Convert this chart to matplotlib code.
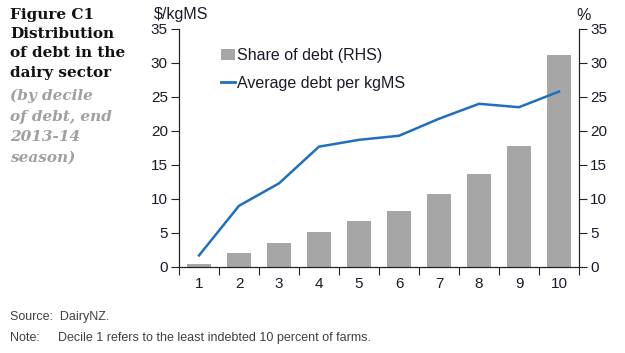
import matplotlib
matplotlib.use("Agg")
import matplotlib.pyplot as plt
from matplotlib.lines import Line2D
from matplotlib.patches import Patch

deciles = ["1", "2", "3", "4", "5", "6", "7", "8", "9", "10"]
share_of_debt = [0.5, 2.1, 3.5, 5.1, 6.7, 8.3, 10.7, 13.7, 17.8, 31.2]
avg_debt = [1.7, 9.0, 12.3, 17.7, 18.7, 19.3, 21.8, 24.0, 23.5, 25.8]
yticks = [0, 5, 10, 15, 20, 25, 30, 35]

plt.rcParams['font.family'] = ['Liberation Sans', 'DejaVu Sans']

fig = plt.figure(figsize=(6.25, 3.53), dpi=100)
W, H = 625, 353
ax = fig.add_axes([179/W, 1-267/H, 400/W, (267-29)/H])
ax2 = ax.twinx()

x = list(range(len(deciles)))
ax2.bar(x, share_of_debt, width=0.58, color="#a6a6a6", zorder=2)
ax.plot(x, avg_debt, color="#1f6fbf", lw=1.8, zorder=3)
ax.set_zorder(ax2.get_zorder()+1)
ax.patch.set_visible(False)

tc = '#1a1a2a'
for a in (ax, ax2):
    a.set_ylim(0, 35)
    a.set_yticks(yticks)
    a.set_xlim(-0.5, 9.5)
    a.tick_params(axis='y', direction='out', length=6, width=0.8, labelsize=11,
                  colors='#222222', labelcolor=tc, pad=2)
    for s in a.spines.values():
        s.set_color('#222222')
        s.set_linewidth(0.8)
    a.spines['top'].set_visible(False)

ax.set_xticks([i - 0.5 for i in range(11)])
ax.set_xticklabels([])
ax.set_xticks(x, minor=True)
ax.set_xticklabels(deciles, minor=True)
ax.tick_params(axis='x', which='major', direction='out', length=6, width=0.8, colors='#222222')
ax.tick_params(axis='x', which='minor', length=0, labelsize=11, pad=7, labelcolor=tc)

fig.text(154/W, 1-15/H, "$/kgMS", fontsize=11.5, ha='left', va='center', color=tc)
fig.text(576/W, 1-15/H, "%", fontsize=11.5, ha='left', va='center', color=tc)

handles = [Patch(facecolor="#a6a6a6", edgecolor='none'),
           Line2D([0], [0], color="#1f6fbf", lw=2)]
leg = ax.legend(handles, ["Share of debt (RHS)", "Average debt per kgMS"],
                loc='upper left', bbox_to_anchor=(0.088, 0.945), frameon=False,
                fontsize=11.5, handlelength=0.9, handletextpad=0.1, labelspacing=0.78,
                borderaxespad=0)
for t in leg.get_texts():
    t.set_color(tc)

fig.text(10/W, 1-8/H, "Figure C1\nDistribution\nof debt in the\ndairy sector",
         fontsize=11, fontweight='bold', family=['DejaVu Serif'], ha='left', va='top',
         color='#111111', linespacing=1.47)
fig.text(10/W, 1-89/H, "(by decile\nof debt, end\n2013-14\nseason)",
         fontsize=11, fontweight='bold', style='italic', family=['DejaVu Serif'],
         ha='left', va='top', color='#a0a0a0', linespacing=1.58)

fig.text(10/W, 1-317/H, "Source:  DairyNZ.", fontsize=9, color='#404040', va='center')
fig.text(10/W, 1-338/H, "Note:", fontsize=9, color='#404040', va='center')
fig.text(58/W, 1-338/H, "Decile 1 refers to the least indebted 10 percent of farms.",
         fontsize=9, color='#404040', va='center')

fig.savefig("out.png", dpi=100)
